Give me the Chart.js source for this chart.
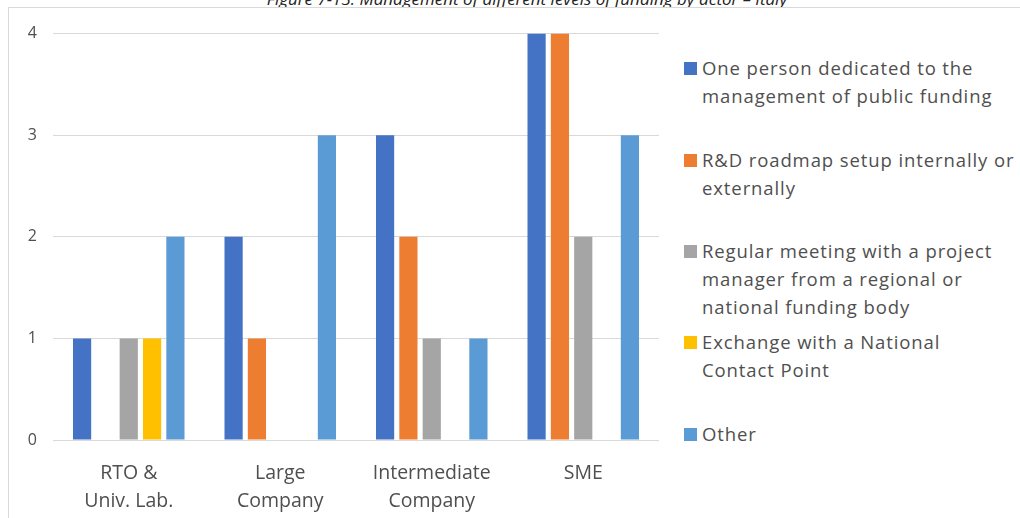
<!DOCTYPE html>
<html>
<head>
<meta charset="utf-8">
<script src="https://cdn.jsdelivr.net/npm/chart.js@4"></script>
<style>
  body { margin: 0; background: #fff; font-family: "Open Sans", sans-serif; }
  #title { position: absolute; left: 0; width: 1054px; top: -13px; text-align: center; font-style: italic; font-size: 17px; color: #222; }
  #frame { position: absolute; left: 8px; top: 7px; width: 1020px; height: 520px; border: 1px solid #d9d9d9; background: #fff; }
  #wrap { position: absolute; left: 0; top: 0; width: 650px; height: 510px; }
  #legend { position: absolute; left: 675px; top: 0; }
  .item { position: absolute; left: 0; width: 345px; color: #4f4f4f; font-size: 18.5px; letter-spacing: 0.9px; line-height: 28px; padding-left: 18px; white-space: nowrap; }
  .box { position: absolute; left: 0; top: 8px; width: 13px; height: 13px; }
</style>
</head>
<body>
<div id="title">Figure 7-13: Management of different levels of funding by actor – Italy</div>
<div id="frame">
  <div id="wrap"><canvas id="chart" width="650" height="510"></canvas></div>
  <div id="legend"></div>
</div>
<script>
const categories = [["RTO &", "Univ. Lab."], ["Large", "Company"], ["Intermediate", "Company"], "SME"];
const seriesNames = [
  "One person dedicated to the management of public funding",
  "R&D roadmap setup internally or externally",
  "Regular meeting with a project manager from a regional or national funding body",
  "Exchange with a National Contact Point",
  "Other"
];
const legendLines = [
  ["One person dedicated to the", "management of public funding"],
  ["R&D roadmap setup internally or", "externally"],
  ["Regular meeting with a project", "manager from a regional or", "national funding body"],
  ["Exchange with a National", "Contact Point"],
  ["Other"]
];
const onePerson = [1, 2, 3, 4];
const roadmap = [0, 1, 2, 4];
const regularMeeting = [1, 0, 1, 2];
const exchangeNCP = [1, 0, 0, 0];
const other = [2, 3, 1, 3];
const colors = ["#4472C4", "#ED7D31", "#A5A5A5", "#FFC000", "#5B9BD5"];

const seriesData = [onePerson, roadmap, regularMeeting, exchangeNCP, other];

new Chart(document.getElementById("chart"), {
  type: 'bar',
  data: {
    labels: categories,
    datasets: seriesData.map((d, i) => ({
      label: seriesNames[i],
      data: d,
      backgroundColor: colors[i],
      categoryPercentage: 0.77,
      barPercentage: 0.78
    }))
  },
  options: {
    responsive: false,
    animation: false,
    layout: { padding: { top: 15, right: 0 } },
    plugins: { legend: { display: false }, tooltip: { enabled: false } },
    scales: {
      x: {
        grid: { display: false },
        border: { display: false },
        ticks: { color: '#4f4f4f', font: { family: 'Open Sans', size: 19.5, lineHeight: 1.45 }, padding: 11, maxRotation: 0 },
        afterFit: s => { s.height = 78; }
      },
      y: {
        min: 0, max: 4,
        grid: { color: '#d9d9d9', drawTicks: false },
        border: { display: false },
        ticks: { stepSize: 1, color: '#4f4f4f', font: { family: 'Open Sans', size: 16 }, padding: 16 },
        afterFit: s => { s.width = 44; }
      }
    }
  }
});

// legend drawn as html so the labels can wrap like the original
const legend = document.getElementById("legend");
const tops = [46, 138, 229, 320, 412];
legendLines.forEach((lines, i) => {
  const el = document.createElement("div");
  el.className = "item";
  el.style.top = tops[i] + "px";
  el.innerHTML = `<span class="box" style="background:${colors[i]}"></span>` + lines.map(l => l.replace(/&/g, "&amp;")).join("<br>");
  legend.appendChild(el);
});
</script>
</body>
</html>
